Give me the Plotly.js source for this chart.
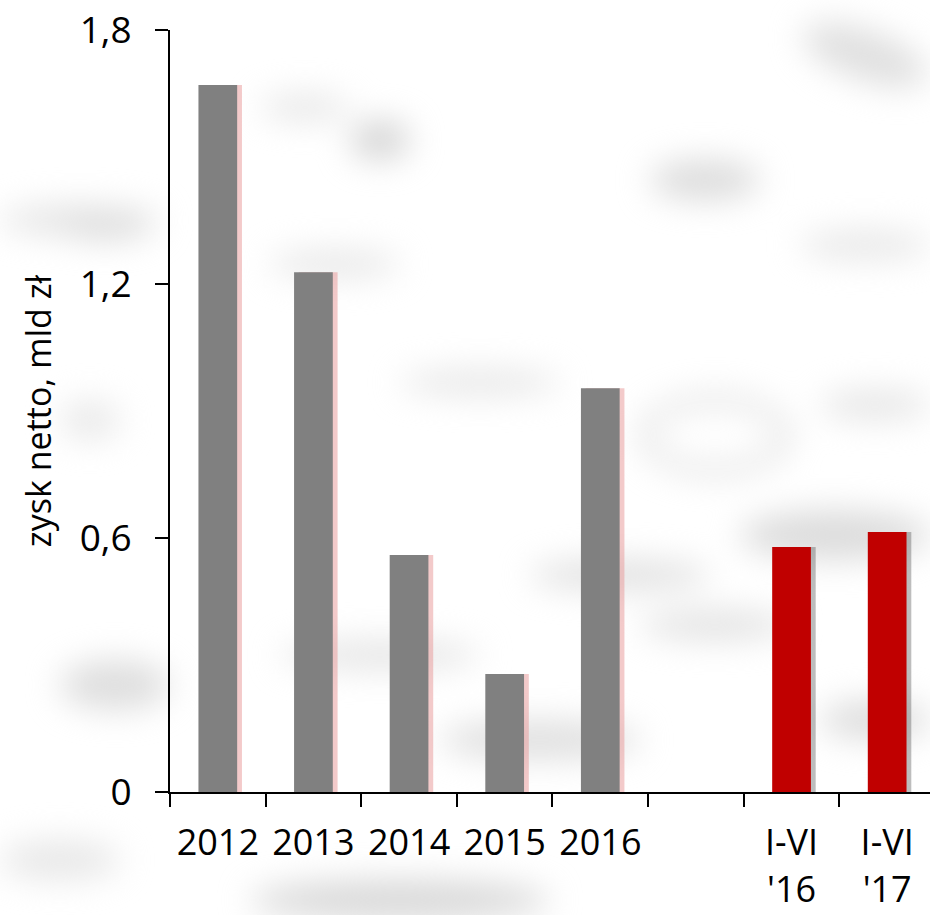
<!DOCTYPE html>
<html>
<head>
<meta charset="utf-8">
<script src="https://cdn.plot.ly/plotly-3.0.1.min.js"></script>
<style>
  html, body { margin: 0; padding: 0; background: #ffffff; }
  #wrap { position: relative; width: 930px; height: 915px; overflow: hidden; }
  #bg { position: absolute; left: 0; top: 0; width: 930px; height: 915px; filter: blur(16px); }
  #bg div { position: absolute; background: #dcdcdc; border-radius: 50%; }
  #chart { position: absolute; left: 0; top: 0; width: 930px; height: 915px; }
</style>
</head>
<body>
<div id="wrap">
  <div id="bg">
    <div style="left:800px;top:30px;width:130px;height:50px;transform:rotate(20deg);background:#e0e0e0"></div>
    <div style="left:350px;top:120px;width:60px;height:40px;background:#d6d6d6"></div>
    <div style="left:260px;top:95px;width:90px;height:25px;background:#e6e6e6"></div>
    <div style="left:650px;top:160px;width:110px;height:40px;background:#dcdcdc"></div>
    <div style="left:0px;top:205px;width:160px;height:30px;background:#e4e4e4"></div>
    <div style="left:60px;top:215px;width:90px;height:25px;background:#dcdcdc"></div>
    <div style="left:270px;top:250px;width:130px;height:28px;background:#e8e8e8"></div>
    <div style="left:800px;top:230px;width:130px;height:30px;background:#e8e8e8"></div>
    <div style="left:400px;top:370px;width:160px;height:25px;background:#e6e6e6"></div>
    <div style="left:640px;top:395px;width:130px;height:60px;background:transparent;border:10px solid #d8d8d8"></div>
    <div style="left:820px;top:390px;width:110px;height:30px;background:#e6e6e6"></div>
    <div style="left:60px;top:400px;width:60px;height:40px;background:#eaeaea"></div>
    <div style="left:530px;top:560px;width:180px;height:30px;background:#e0e0e0"></div>
    <div style="left:740px;top:510px;width:190px;height:50px;background:#dcdcdc"></div>
    <div style="left:640px;top:610px;width:150px;height:30px;background:#e2e2e2"></div>
    <div style="left:60px;top:660px;width:110px;height:50px;background:#dedede"></div>
    <div style="left:280px;top:640px;width:200px;height:30px;background:#e6e6e6"></div>
    <div style="left:440px;top:720px;width:200px;height:40px;background:#e0e0e0"></div>
    <div style="left:820px;top:700px;width:110px;height:40px;background:#dedede"></div>
    <div style="left:0px;top:840px;width:120px;height:40px;background:#e8e8e8"></div>
    <div style="left:250px;top:880px;width:300px;height:40px;background:#d8d8d8"></div>
  </div>
  <div id="chart"></div>
</div>
<script>
// ---- data ----
var categories = ['2012', '2013', '2014', '2015', '2016', ' ', "I-VI<br>'16", "I-VI<br>'17"];
var annualValues = [1.67, 1.228, 0.56, 0.279, 0.954, null, null, null];
var halfYearValues = [null, null, null, null, null, null, 0.579, 0.614];
var yTickValues = [0, 0.6, 1.2, 1.8];
var yAxisTitle = 'zysk netto, mld zł';

// ---- styling ----
var barWidth = 0.405;
var shadowShift = 0.05;
var font = 'Open Sans, Noto Sans, sans-serif';

function bar(values, color, shadow) {
  return {
    type: 'bar',
    x: categories,
    y: values,
    width: barWidth,
    offset: -barWidth / 2 + (shadow ? shadowShift : 0),
    marker: { color: color, line: { width: 0 } },
    hoverinfo: shadow ? 'skip' : 'x+y',
    showlegend: false
  };
}

var data = [
  bar(annualValues, 'rgba(232,150,150,0.5)', true),
  bar(halfYearValues, 'rgba(90,90,90,0.4)', true),
  bar(annualValues, '#808080', false),
  bar(halfYearValues, '#C00000', false)
];

var layout = {
  width: 930,
  height: 915,
  margin: { l: 170, r: 0, t: 30, b: 123 },
  paper_bgcolor: 'rgba(0,0,0,0)',
  plot_bgcolor: 'rgba(0,0,0,0)',
  separators: ', ',
  barmode: 'overlay',
  font: { family: font, color: '#000000', size: 36 },
  xaxis: {
    type: 'category',
    range: [-0.5, 7.448],
    showgrid: false,
    zeroline: false,
    showline: true,
    linecolor: '#000000',
    linewidth: 2,
    ticks: 'outside',
    tickson: 'boundaries',
    ticklen: 13,
    tickwidth: 2,
    tickcolor: '#000000',
    ticklabelstandoff: 18,
    tickfont: { size: 36, family: font, color: '#000000' },
    fixedrange: true
  },
  yaxis: {
    range: [0, 1.8],
    tickvals: yTickValues,
    showgrid: false,
    zeroline: false,
    showline: true,
    linecolor: '#000000',
    linewidth: 2,
    ticks: 'outside',
    ticklen: 13,
    tickwidth: 2,
    tickcolor: '#000000',
    ticklabelstandoff: 16,
    tickfont: { size: 37, family: font, color: '#000000' },
    title: { text: yAxisTitle, font: { size: 34, family: font, color: '#000000' }, standoff: 18 },
    fixedrange: true
  }
};

Plotly.newPlot('chart', data, layout, { displayModeBar: false, staticPlot: true });
</script>
</body>
</html>
